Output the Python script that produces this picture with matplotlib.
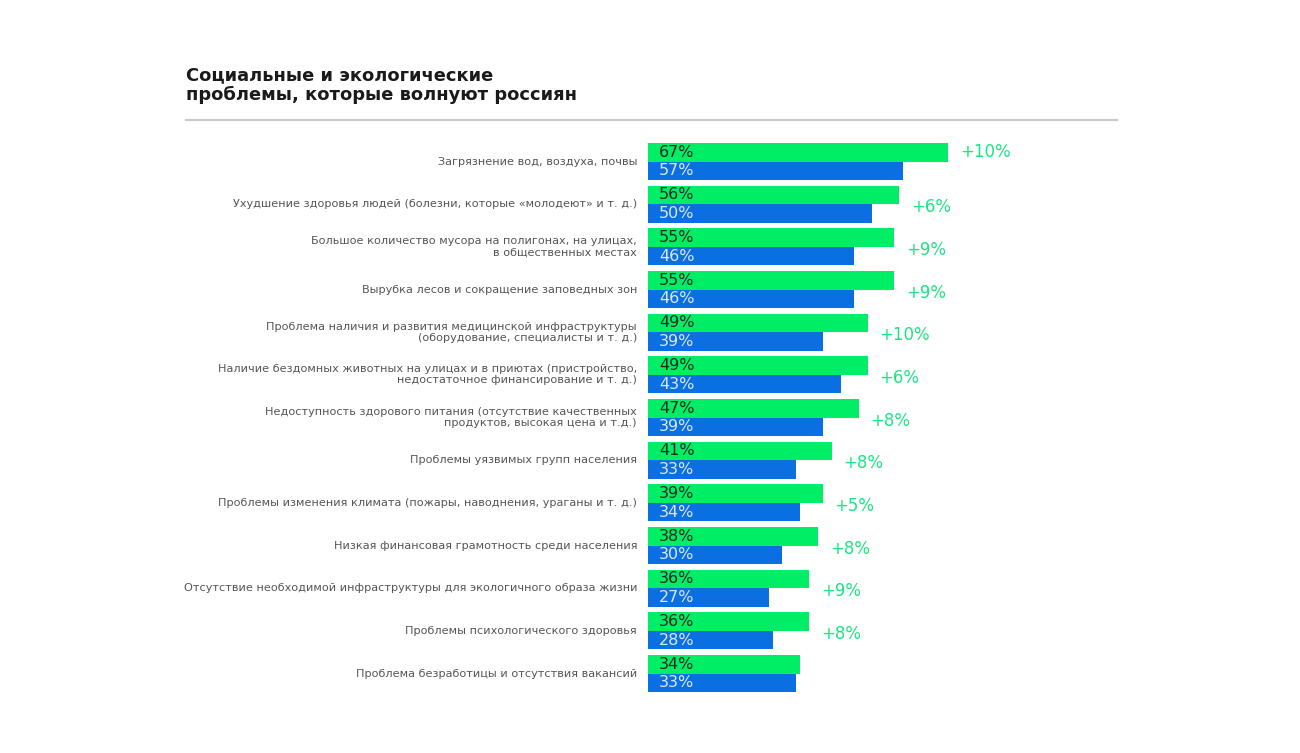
import matplotlib
matplotlib.use("Agg")
import matplotlib.pyplot as plt
from matplotlib.lines import Line2D

# Data
problems = [
    "Загрязнение вод, воздуха, почвы",
    "Ухудшение здоровья людей (болезни, которые «молодеют» и т. д.)",
    "Большое количество мусора на полигонах, на улицах,\nв общественных местах",
    "Вырубка лесов и сокращение заповедных зон",
    "Проблема наличия и развития медицинской инфраструктуры\n(оборудование, специалисты и т. д.)",
    "Наличие бездомных животных на улицах и в приютах (пристройство,\nнедостаточное финансирование и т. д.)",
    "Недоступность здорового питания (отсутствие качественных\nпродуктов, высокая цена и т.д.)",
    "Проблемы уязвимых групп населения",
    "Проблемы изменения климата (пожары, наводнения, ураганы и т. д.)",
    "Низкая финансовая грамотность среди населения",
    "Отсутствие необходимой инфраструктуры для экологичного образа жизни",
    "Проблемы психологического здоровья",
    "Проблема безработицы и отсутствия вакансий",
]
current = [67, 56, 55, 55, 49, 49, 47, 41, 39, 38, 36, 36, 34]
previous = [57, 50, 46, 46, 39, 43, 39, 33, 34, 30, 27, 28, 33]
growth = ["+10%", "+6%", "+9%", "+9%", "+10%", "+6%", "+8%", "+8%", "+5%", "+8%", "+9%", "+8%", None]

GREEN = "#00EE66"
BLUE = "#0A6FE0"
DIFF_GREEN = "#1FE384"
LABEL_GREY = "#555555"

plt.rcParams["font.family"] = ["DejaVu Sans"]

W, H = 1300, 753
fig = plt.figure(figsize=(13, 7.53), dpi=100)

# axes placed so bar origin sits at x=648px, 4.48px per percent
x0, x1 = 648, 1117
row_h = 42.67
y_first = 161.5
ylo, yhi = -0.6, 12.6
top_px = y_first + ylo * row_h
bot_px = y_first + yhi * row_h
ax = fig.add_axes([x0 / W, 1 - bot_px / H, (x1 - x0) / W, (bot_px - top_px) / H])
ax.set_xlim(0, (x1 - x0) / 4.48)
ax.set_ylim(yhi, ylo)
ax.axis("off")

bh = 0.434
ys = list(range(len(problems)))
ax.barh([y - bh / 2 for y in ys], current, height=bh, color=GREEN)
ax.barh([y + bh / 2 for y in ys], previous, height=bh, color=BLUE)

for y, c, p, g, name in zip(ys, current, previous, growth, problems):
    ax.text(2.4, y - bh / 2, f"{c}%", va="center", ha="left", fontsize=11.5, color="#1b2a20")
    ax.text(2.4, y + bh / 2, f"{p}%", va="center", ha="left", fontsize=11.5, color="#dbe8fb")
    ax.annotate(name, xy=(0, y), xytext=(-11, 0), textcoords="offset pixels",
                ha="right", va="center", fontsize=8.1, color=LABEL_GREY,
                multialignment="right", linespacing=1.1, annotation_clip=False)
    if g is not None:
        gy = y - bh / 2 if y == 0 else y
        dy = 0 if y == 0 else -3
        ax.annotate(g, xy=(c, gy), xytext=(12, dy), textcoords="offset pixels",
                    ha="left", va="center", fontsize=12, color=DIFF_GREEN,
                    annotation_clip=False)

fig.text(186 / W, 1 - 66 / H, "Социальные и экологические\nпроблемы, которые волнуют россиян",
         ha="left", va="top", fontsize=12.9, fontweight="bold", color="#1a1a1a", linespacing=1.15)
fig.add_artist(Line2D([186 / W, 1117 / W], [1 - 120 / H, 1 - 120 / H],
                      transform=fig.transFigure, color="#c8c8c8", lw=1.5))

fig.savefig("out.png", dpi=100, facecolor="white")
